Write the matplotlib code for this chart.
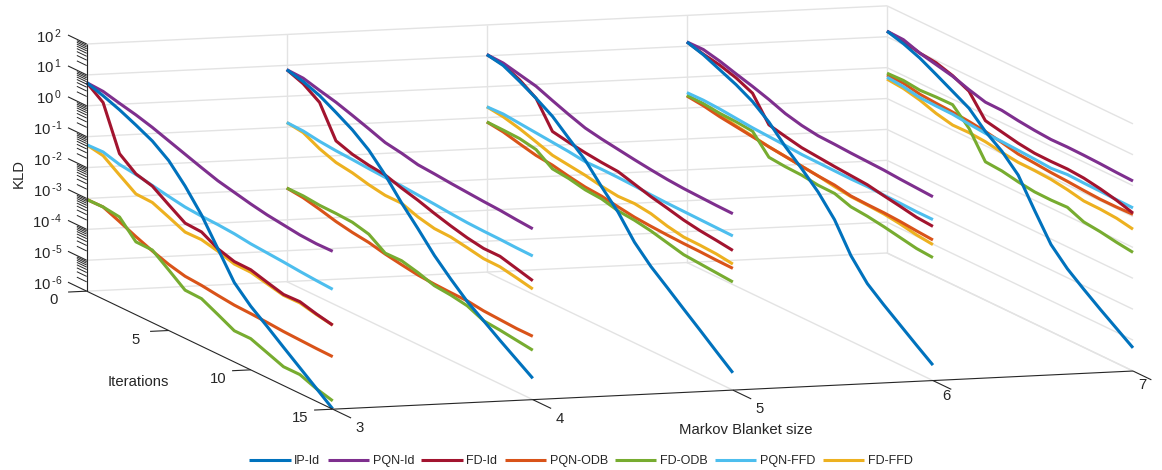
import numpy as np
import matplotlib
matplotlib.use("Agg")
import matplotlib.pyplot as plt
from mpl_toolkits.mplot3d import proj3d

plt.rcParams['font.family'] = ['Liberation Sans', 'DejaVu Sans']
plt.rcParams['mathtext.default'] = 'regular'

blanket_sizes = [3, 4, 5, 6, 7]
iterations = np.arange(16)
iter_ticks = [0, 5, 10, 15]
decades = [-6, -5, -4, -3, -2, -1, 0, 1, 2]

# log10(KLD), one row per Markov blanket size
ip_id = [
    [.75, .58, .38, .14, -.12, -.50, -1.07, -1.75, -2.59, -3.43, -3.94, -4.34, -4.76, -5.17, -5.58, -5.99],
    [.86, .73, .53, .24, -.07, -.47, -1.02, -1.67, -2.25, -2.86, -3.37, -3.84, -4.21, -4.59, -4.95, -5.31],
    [1.04, .94, .68, .39, .06, -.40, -.85, -1.46, -2.02, -2.74, -3.27, -3.70, -4.14, -4.57, -5.01, -5.44],
    [1.14, .98, .75, .52, .23, -.18, -.72, -1.18, -1.68, -2.32, -3.23, -3.88, -4.31, -4.71, -5.11, -5.50],
    [1.18, 1.03, .82, .54, .25, -.04, -.54, -.92, -1.44, -2.33, -3.18, -3.71, -4.12, -4.51, -4.88, -5.25],
]
pqn_id = [
    [.75, .72, .59, .47, .32, .14, -.04, -.22, -.39, -.51, -.63, -.73, -.80, -.87, -.90, -.89],
    [.86, .84, .70, .57, .40, .22, .03, -.06, -.18, -.22, -.27, -.31, -.35, -.38, -.43, -.47],
    [1.04, 1.02, .90, .78, .57, .37, .19, .09, .01, -.07, -.14, -.20, -.24, -.26, -.28, -.29],
    [1.14, 1.15, 1.03, .87, .72, .55, .35, .22, .14, .12, .09, .07, .05, .01, -.02, -.05],
    [1.18, 1.16, .98, .86, .74, .56, .41, .40, .32, .26, .22, .23, .22, .20, .17, .15],
]
fd_id = [
    [.75, .36, -1.04, -1.44, -1.58, -1.93, -2.27, -2.30, -2.59, -2.75, -2.76, -2.91, -3.05, -3.03, -3.17, -3.28],
    [.86, .66, .31, -.68, -.86, -.96, -1.02, -1.19, -1.33, -1.50, -1.65, -1.78, -1.87, -1.87, -2.01, -2.15],
    [1.04, .97, .73, .39, -.43, -.53, -.61, -.67, -.71, -.86, -1.01, -1.13, -1.26, -1.35, -1.41, -1.48],
    [1.14, 1.00, .90, .74, .50, -.27, -.39, -.50, -.55, -.60, -.64, -.68, -.78, -.87, -.97, -1.01],
    [1.18, 1.11, .98, .92, .76, .51, -.19, -.30, -.41, -.48, -.49, -.48, -.52, -.61, -.73, -.89],
]
pqn_odb = [
    [-3.03, -3.02, -3.24, -3.47, -3.68, -3.86, -3.99, -4.03, -4.10, -4.16, -4.18, -4.21, -4.25, -4.27, -4.29, -4.30],
    [-2.97, -3.03, -3.15, -3.29, -3.39, -3.46, -3.58, -3.67, -3.75, -3.79, -3.81, -3.82, -3.89, -3.92, -3.95, -3.95],
    [-1.14, -1.21, -1.34, -1.46, -1.52, -1.63, -1.72, -1.76, -1.85, -1.93, -1.97, -2.00, -2.02, -2.03, -2.05, -2.06],
    [-.61, -.67, -.77, -.84, -.91, -.98, -1.04, -1.10, -1.16, -1.20, -1.30, -1.32, -1.33, -1.36, -1.41, -1.45],
    [-.24, -.25, -.35, -.39, -.42, -.47, -.54, -.64, -.76, -.80, -.85, -.88, -.92, -.95, -.95, -.93],
]
fd_odb = [
    [-3.03, -3.02, -3.09, -3.64, -3.65, -4.04, -4.44, -4.46, -4.72, -4.99, -4.99, -5.19, -5.39, -5.39, -5.59, -5.73],
    [-2.97, -2.97, -3.02, -3.03, -3.06, -3.19, -3.55, -3.54, -3.67, -3.84, -3.89, -3.98, -4.21, -4.26, -4.33, -4.40],
    [-1.14, -1.15, -1.17, -1.27, -1.64, -1.70, -1.81, -1.85, -1.98, -2.03, -2.12, -2.25, -2.38, -2.42, -2.46, -2.50],
    [-.59, -.60, -.66, -.68, -.73, -1.32, -1.37, -1.39, -1.46, -1.47, -1.65, -1.70, -1.78, -1.88, -1.98, -2.02],
    [-.18, -.16, -.22, -.19, -.18, -.69, -1.52, -1.56, -1.66, -1.73, -1.74, -1.72, -1.94, -2.00, -2.09, -2.16],
]
pqn_ffd = [
    [-1.26, -1.24, -1.39, -1.46, -1.56, -1.66, -1.75, -1.79, -1.81, -1.85, -1.92, -1.96, -2.00, -2.05, -2.09, -2.12],
    [-.85, -.87, -.95, -1.00, -1.03, -1.07, -1.10, -1.12, -1.16, -1.20, -1.25, -1.29, -1.31, -1.32, -1.34, -1.35],
    [-.65, -.63, -.68, -.73, -.78, -.83, -.90, -.89, -.90, -.92, -.95, -.97, -.98, -.99, -1.00, -1.01],
    [-.50, -.49, -.52, -.57, -.62, -.65, -.68, -.72, -.73, -.74, -.75, -.74, -.76, -.77, -.79, -.79],
    [-.31, -.36, -.46, -.48, -.49, -.55, -.60, -.61, -.64, -.67, -.71, -.66, -.68, -.69, -.71, -.72],
]
fd_ffd = [
    [-1.26, -1.36, -1.73, -2.09, -2.11, -2.33, -2.56, -2.55, -2.67, -2.83, -2.84, -2.96, -3.08, -3.07, -3.19, -3.28],
    [-.85, -.92, -1.19, -1.38, -1.46, -1.59, -1.68, -1.68, -1.87, -1.99, -2.01, -2.10, -2.20, -2.21, -2.31, -2.42],
    [-.65, -.72, -.85, -1.02, -1.20, -1.27, -1.34, -1.44, -1.51, -1.49, -1.56, -1.71, -1.81, -1.82, -1.85, -1.92],
    [-.59, -.63, -.72, -.81, -.89, -.98, -1.04, -1.10, -1.16, -1.25, -1.32, -1.34, -1.37, -1.44, -1.54, -1.60],
    [-.37, -.42, -.54, -.72, -.84, -.83, -.87, -.96, -1.03, -1.04, -1.07, -1.15, -1.26, -1.27, -1.31, -1.41],
]

series = [
    ("IP-Id", ip_id, "#0072BD", 7),
    ("PQN-Id", pqn_id, "#7E2F8E", 6),
    ("FD-Id", fd_id, "#A2142F", 5),
    ("PQN-ODB", pqn_odb, "#D95319", 2),
    ("FD-ODB", fd_odb, "#77AC30", 3),
    ("PQN-FFD", pqn_ffd, "#4DBEEE", 4),
    ("FD-FFD", fd_ffd, "#EDB120", 1),
]

W, H = 1162, 470
GRID = "#e3e3e3"
INK = "#262626"

fig = plt.figure(figsize=(W / 100, H / 100), dpi=100)
ax = fig.add_axes([0, 0, 1, 1], projection="3d", proj_type="ortho")
ax.computed_zorder = False
ax.set_autoscale_on(False)
ax.set_axis_off()
ax.view_init(elev=8.7, azim=-107.5)
ax.set_box_aspect((839, 818, 250))
ax.set_xlim(3, 7, view_margin=0)
ax.set_ylim(15, 0, view_margin=0)
ax.set_zlim(-6, 2, view_margin=0)


def line(xs, ys, zs, color=INK, lw=0.8, z=1):
    ax.plot(xs, ys, zs, color=color, lw=lw, zorder=z, solid_capstyle="butt")


def label(x, y, z, s, ha="center"):
    # plain 2D text at the projected spot of a 3D point
    u, v, _ = proj3d.proj_transform(x, y, z, ax.get_proj())
    ax.text2D(u, v, s, ha=ha, va="center", fontsize=10.7, color=INK, transform=ax.transData)


def decade_text(d):
    power = f"\\text{{-}}{-d}" if d < 0 else str(d)
    return f"$10^{{\\,{power}}}$"


# grid on the back wall, the right wall and the floor
for d in decades:
    line([3, 7], [0, 0], [d, d], GRID, 1.0)
    line([7, 7], [0, 15], [d, d], GRID, 1.0)
for b in blanket_sizes:
    line([b, b], [0, 0], [-6, 2], GRID, 1.0)
    if b > 3:
        line([b, b], [0, 15], [-6, -6], GRID, 1.0)

# curves, the nearer slices over the farther ones
handles = []
for name, values, color, order in series:
    for k, b in enumerate(blanket_sizes):
        ln, = ax.plot([b] * len(iterations), iterations, values[k], color=color, lw=2.2,
                      zorder=10 + (4 - k) * 10 + order, solid_capstyle="butt", label=name)
    handles.append(ln)

# box edges and ticks
line([3, 3], [0, 0], [-6, 2], z=100)
line([3, 3], [0, 15], [-6, -6], z=100)
line([3, 7], [15, 15], [-6, -6], z=100)

for d in decades:
    line([3, 3], [-1.14, 0], [d, d], z=100)
    label(3, -1.5, d - 0.13, decade_text(d), ha="right")
    if d < 2:
        for m in range(2, 10):
            zm = d + np.log10(m)
            line([3, 3], [-0.6, 0], [zm, zm], lw=0.7, z=100)

for it in iter_ticks:
    line([2.907, 3], [it, it], [-6, -6], z=100)
    label(2.835, it, -6.25, str(it))

# the last two labels sit closer to their ticks in the reference
for b in blanket_sizes:
    line([b, b], [15, 16.12], [-6, -6], z=100)
    if b == 6:
        label(b, 15.85, -6.29, str(b))
    elif b == 7:
        label(b, 15.6, -6.3, str(b))
    else:
        label(b, 16.65, -6.2, str(b))

fig.text(19 / W, 1 - 174 / H, "KLD", rotation=90, ha="center", va="center", fontsize=10.7, color=INK)
fig.text(138 / W, 1 - 382 / H, "Iterations", ha="center", va="center", fontsize=10.7, color=INK)
fig.text(746 / W, 1 - 430 / H, "Markov Blanket size", ha="center", va="center", fontsize=10.7, color=INK)

fig.legend(handles=handles, loc="center", bbox_to_anchor=(581 / W, 1 - 461 / H), ncol=7, frameon=False,
           fontsize=9, handlelength=3.3, handletextpad=0.3, columnspacing=0.58, labelcolor=INK, borderpad=0)


def to_px(x, y, z):
    u, v, _ = proj3d.proj_transform(x, y, z, ax.get_proj())
    return ax.transData.transform((u, v))


# fit the square axes so the box corners land where they are in the reference
side, left, bottom = 900.0, 130.0, -200.0
for _ in range(4):
    ax.set_position([left / W, bottom / H, side / W, side / H])
    ax.apply_aspect()
    top_left = to_px(3, 0, 2)
    front_right = to_px(7, 15, -6)
    side *= (1133 - 86.7) / (front_right[0] - top_left[0])
    ax.set_position([left / W, bottom / H, side / W, side / H])
    ax.apply_aspect()
    top_left = to_px(3, 0, 2)
    left += 86.7 - top_left[0]
    bottom += (H - 44) - top_left[1]

ax.set_position([left / W, bottom / H, side / W, side / H])
fig.savefig("out.png", dpi=100)
